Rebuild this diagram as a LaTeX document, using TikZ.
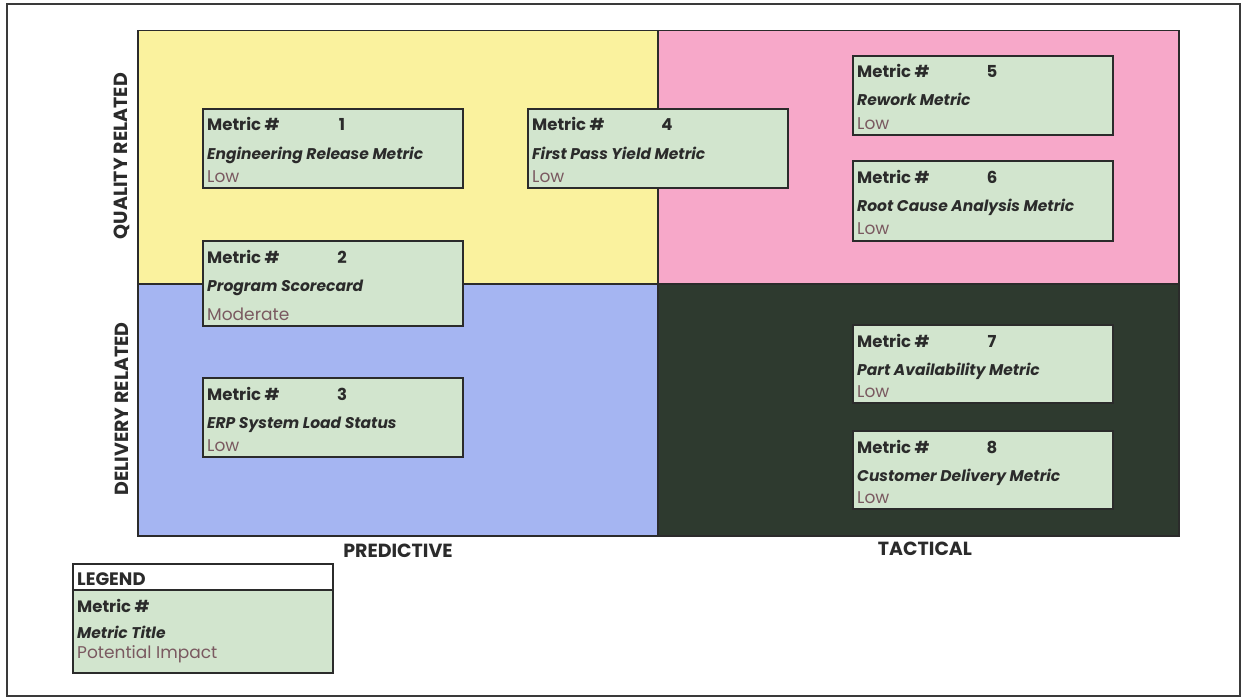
\documentclass[tikz,border=0pt]{standalone}
\usepackage{fontspec}
\setmainfont{Poppins}
\usetikzlibrary{calc}
\definecolor{frame}{HTML}{3A3A3A}
\definecolor{qyellow}{HTML}{FAF29E}
\definecolor{qpink}{HTML}{F7A8C9}
\definecolor{qblue}{HTML}{A5B5F2}
\definecolor{qdark}{HTML}{2E3A2F}
\definecolor{boxfill}{HTML}{D2E5CE}
\definecolor{ink}{HTML}{2B2B2B}
\definecolor{impact}{HTML}{7A5960}
\tikzset{
  quad/.style={draw=ink, line width=1.5pt, anchor=north west, inner sep=0pt},
  metric/.style={draw=ink, line width=2.2pt, fill=boxfill, anchor=north west,
    minimum width=260pt, inner sep=0pt},
  rowhead/.style={anchor=base west, inner sep=0pt, text=ink, font=\fontsize{16.5}{16.5}\selectfont\bfseries},
  rownum/.style={anchor=base, inner sep=0pt, text=ink, font=\fontsize{16.5}{16.5}\selectfont\bfseries},
  rowtitle/.style={anchor=base west, inner sep=0pt, text=ink, font=\fontsize{15.5}{15.5}\selectfont\bfseries\itshape},
  rowimpact/.style={anchor=base west, inner sep=0pt, text=impact, font=\fontsize{17}{17}\selectfont},
  axis/.style={inner sep=0pt, text=ink, font=\fontsize{19}{19}\selectfont\bfseries}
}
% #1 name, #2 left, #3 top, #4 height, #5 number offset, #6 number, #7 title, #8 impact, #9 impact baseline
\newcommand{\metricbox}[9]{%
  \node[metric, minimum height=#4pt] (#1) at (#2,#3) {};
  \node[rowhead] (#1h) at ($(#1.north west)+(5,23)$) {Metric \#};
  \node[rownum] (#1n) at ($(#1.north west)+(#5,23)$) {#6};
  \node[rowtitle] (#1t) at ($(#1.north west)+(5,51)$) {#7};
  \node[rowimpact] (#1i) at ($(#1.north west)+(5,#9)$) {#8};
}
\begin{document}
\begin{tikzpicture}[x=1pt,y=-1pt]
\useasboundingbox (0,0) rectangle (1244,698);
\fill[white] (0,0) rectangle (1244,698);
\draw[line width=2.5pt, draw=frame] (7,4) rectangle (1240,696);

% four quadrants
\node[quad, fill=qyellow, minimum width=520pt, minimum height=253pt] (qy) at (137,30) {};
\node[quad, fill=qpink,   minimum width=521pt, minimum height=253pt] (qp) at (657,30) {};
\node[quad, fill=qblue,   minimum width=520pt, minimum height=252pt] (qb) at (137,283) {};
\node[quad, fill=qdark,   minimum width=521pt, minimum height=252pt] (qd) at (657,283) {};

% axis captions
\node[axis, rotate=90] (lq) at (122,156) {QUALITY RELATED};
\node[axis, rotate=90] (ld) at (122,409) {DELIVERY RELATED};
\node[axis] (lp) at (398,551) {PREDICTIVE};
\node[axis] (lt) at (925,549) {TACTICAL};

% metric boxes
\metricbox{m1}{202}{108}{79}{140}{1}{Engineering Release Metric}{Low}{74}
\metricbox{m2}{202}{240}{85}{140}{2}{Program Scorecard}{Moderate}{80}
\metricbox{m3}{202}{377}{79}{140}{3}{ERP System Load Status}{Low}{74}
\metricbox{m4}{527}{108}{79}{140}{4}{First Pass Yield Metric}{Low}{74}
\metricbox{m5}{852}{55}{79}{140}{5}{Rework Metric}{Low}{74}
\metricbox{m6}{852}{160}{80}{140}{6}{Root Cause Analysis Metric}{Low}{74}
\metricbox{m7}{852}{324}{78}{140}{7}{Part Availability Metric}{Low}{73}
\metricbox{m8}{852}{430}{78}{140}{8}{Customer Delivery Metric}{Low}{73}

% legend
\node[metric, minimum height=109pt] (lg) at (72,563) {};
\node[draw=ink, line width=2.2pt, fill=white, anchor=north west, minimum width=260pt, minimum height=26pt, inner sep=0pt] (lgh) at (72,563) {};
\node[rowhead, font=\fontsize{18}{18}\selectfont\bfseries] (lght) at ($(lgh.north west)+(5,22)$) {LEGEND};
\node[rowhead] (lg1) at ($(lg.north west)+(5,49)$) {Metric \#};
\node[rowtitle] (lg2) at ($(lg.north west)+(5,75)$) {Metric Title};
\node[rowimpact] (lg3) at ($(lg.north west)+(5,95)$) {Potential Impact};
\end{tikzpicture}
\end{document}
